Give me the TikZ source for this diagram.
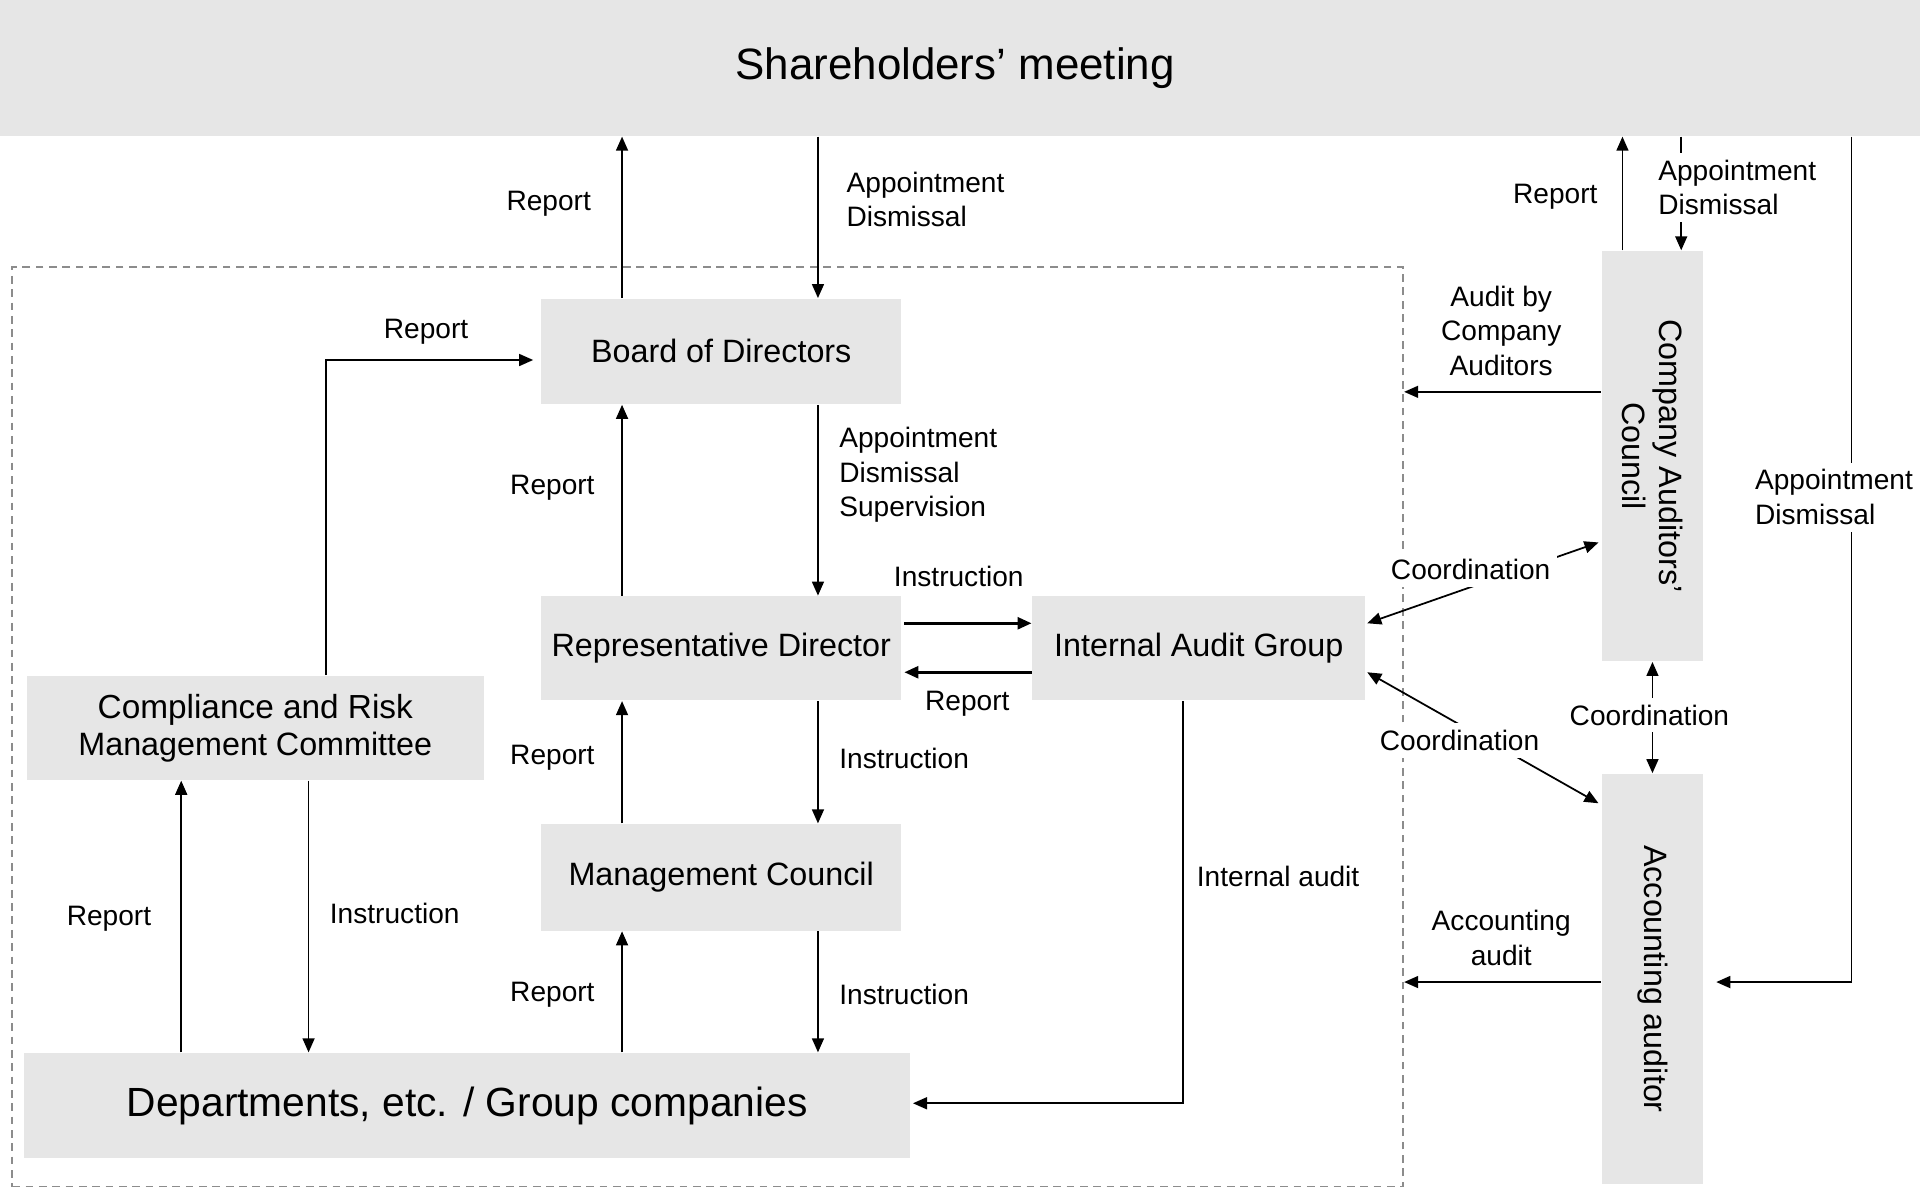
\documentclass[tikz,border=0pt]{standalone}
\usepackage{fontspec}
\setmainfont{Liberation Sans}
\usetikzlibrary{arrows.meta}
\usetikzlibrary{calc}
\definecolor{boxgray}{HTML}{E6E6E6}
\definecolor{framegray}{HTML}{8C8C8C}
\newcommand{\px}{0.01225cm}
\newcommand{\orgbox}[6] % name, x, y, width, height, text (all in sketch px)
{
	\node[unit, minimum width=#4*\px, minimum height=#5*\px] (#1) at (#2,#3) {#6};
}
\tikzset{
	unit/.style={fill=boxgray, inner sep=0pt, align=center, font=\fontsize{9.2}{10.5}\selectfont},
	lbl/.style={inner sep=1pt, align=left, font=\fontsize{8}{9.8}\selectfont},
	mask/.style={fill=white, inner sep=2pt},
	arr/.style={-{Triangle[length=4pt,width=3.4pt]}, line width=0.5pt},
	dbl/.style={{Triangle[length=4pt,width=3.4pt]}-{Triangle[length=4pt,width=3.4pt]}, line width=0.5pt},
	frame/.style={draw=framegray, dash pattern=on 2.2pt off 1.6pt, line width=0.5pt, inner sep=0pt}
}

\begin{document}
\begin{tikzpicture}[x=\px, y=-\px]
	\useasboundingbox (0,0) rectangle (1568,980);
	% top
	\orgbox{sh}{780}{55.5}{1576}{111}{\fontsize{12.5}{14}\selectfont Shareholders’ meeting}
	% company frame
	\node[frame, minimum width=1136*\px, minimum height=751*\px] (grp) at (578,593.5) {};
	
	\orgbox{bod}{589}{287}{294}{86}{Board of Directors}
	\orgbox{rd}{589}{529.5}{294}{85}{Representative Director}
	\orgbox{iag}{979}{529.5}{272}{85}{Internal Audit Group}
	\orgbox{mc}{589}{716.5}{294}{87}{Management Council}
	\orgbox{crmc}{208.5}{594.5}{373}{85}{\fontsize{9.5}{10.5}\selectfont Compliance and Risk\\Management Committee}
	\orgbox{dep}{381.5}{903}{723}{86}{\fontsize{11.6}{13}\selectfont Departments, etc. / Group companies}
	% auditors, turned
	\node[unit, rotate=-90, minimum width=335*\px, minimum height=83*\px] (cac) at (1349.5,372.5) {Company Auditors’\\Council};
	\node[unit, rotate=-90, minimum width=335*\px, minimum height=83*\px] (aa) at (1349.5,799.5) {Accounting auditor};
	
	% vertical lines
	\coordinate (lx) at (508,0);
	\coordinate (rx) at (668,0);
	\coordinate (cx1) at (148,0);
	\coordinate (cx2) at (252,0);
	\coordinate (cx3) at (266,0);
	\coordinate (ix) at (966,0);
	\coordinate (ax1) at (1325,0);
	\coordinate (ax2) at (1373,0);
	\coordinate (ax3) at (1512,0);
	
	% main chain
	\draw[arr] (bod.north -| lx) -- (sh.south -| lx);
	\draw[arr] (sh.south -| rx) -- (bod.north -| rx);
	\draw[arr] (rd.north -| lx) -- (bod.south -| lx);
	\draw[arr] (bod.south -| rx) -- (rd.north -| rx);
	\draw[arr] (mc.north -| lx) -- (rd.south -| lx);
	\draw[arr] (rd.south -| rx) -- (mc.north -| rx);
	\draw[arr] (dep.north -| lx) -- (mc.south -| lx);
	\draw[arr] (mc.south -| rx) -- (dep.north -| rx);
	% compliance
	\draw[arr] (dep.north -| cx1) -- (crmc.south -| cx1);
	\draw[arr] (crmc.south -| cx2) -- (dep.north -| cx2);
	\draw[arr] (crmc.north -| cx3) |- ($(bod.west)+(-6,7)$);
	% internal audit
	\draw[arr, line width=0.8pt] ($(rd.east)+(2,-20.5)$) -- ($(iag.west)+(0,-20.5)$);
	\draw[arr, line width=0.8pt] ($(iag.west)+(0,19.5)$) -- ($(rd.east)+(2,19.5)$);
	\draw[arr] (iag.south -| ix) |- ($(dep.east)+(2,-2)$);
	% auditors
	\coordinate (ca) at ($(cac.south)+(0,-52.5)$);
	\coordinate (aw) at ($(aa.south)+(0,2.5)$);
	\draw[arr] (cac.west -| ax1) -- (sh.south -| ax1);
	\draw[arr] (sh.south -| ax2) -- (cac.west -| ax2);
	\draw[arr] (ca) -- (ca -| grp.east);
	\draw[arr] (sh.south -| ax3) |- ($(aa.north)+(10,2.5)$);
	\draw[arr] (aw) -- (aw -| grp.east);
	\draw[dbl] ($(iag.east)+(1,-20.5)$) -- ($(cac.south)+(-2,70.5)$);
	\draw[dbl] ($(iag.east)+(1,19.5)$) -- ($(aa.south)+(-2,-143.5)$);
	\draw[dbl] (cac.east) -- (aa.west);
	
	% labels
	\node[lbl, anchor=east] (rep1) at (486,166) {Report};
	\node[lbl, anchor=west] (app1) at (688,163) {Appointment\\Dismissal};
	\node[lbl] (rep2) at (348,271) {Report};
	\node[lbl, anchor=west] (app2) at (682,388) {Appointment\\Dismissal\\Supervision};
	\node[lbl, anchor=east] (rep3) at (489,398) {Report};
	\node[lbl] (ins1) at (783,471) {Instruction};
	\node[lbl] (rep4) at (790,575) {Report};
	\node[lbl, anchor=west] (ins2) at (682,619) {Instruction};
	\node[lbl, anchor=east] (rep5) at (489,619) {Report};
	\node[lbl, anchor=east] (rep6) at (489,812) {Report};
	\node[lbl, anchor=west] (ins3) at (682,812) {Instruction};
	\node[lbl] (rep7) at (89,750) {Report};
	\node[lbl, anchor=west] (ins4) at (266,746) {Instruction};
	\node[lbl, anchor=west] (ia) at (974,716) {Internal audit};
	\node[lbl, anchor=east] (rep8) at (1308,161) {Report};
	\node[lbl, mask, anchor=west] (app3) at (1348,153) {Appointment\\Dismissal};
	\node[lbl, align=center] (abc) at (1226,270) {Audit by\\Company\\Auditors};
	\node[lbl, mask, anchor=west] (app4) at (1427,406) {Appointment\\Dismissal};
	\node[lbl, mask] (co1) at (1201,465) {Coordination};
	\node[lbl, mask] (co2) at (1192,605) {Coordination};
	\node[lbl, mask] (co3) at (1347,584) {Coordination};
	\node[lbl, align=center] (acc) at (1226,766) {Accounting\\audit};
\end{tikzpicture}
\end{document}
